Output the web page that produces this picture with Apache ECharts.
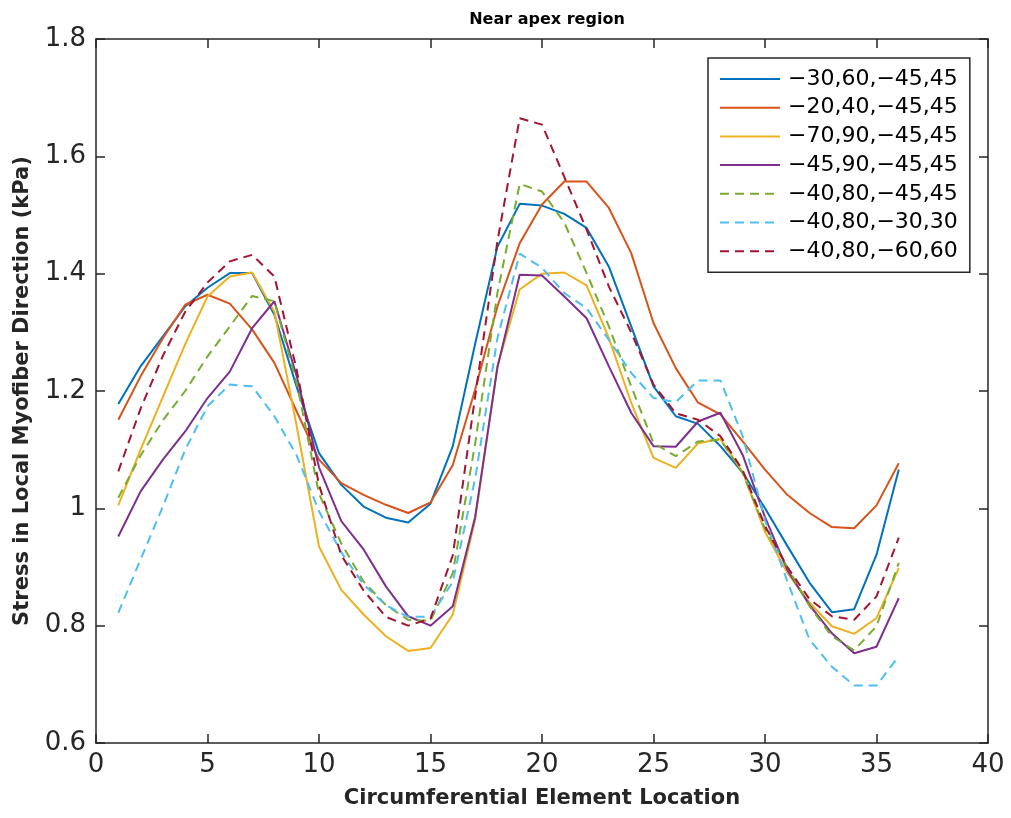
<!DOCTYPE html>
<html>
<head>
<meta charset="utf-8">
<script src="https://cdn.jsdelivr.net/npm/echarts@6/dist/echarts.min.js"></script>
<style>
html,body{margin:0;padding:0;background:#fff;}
#chart{width:1011px;height:818px;}
</style>
</head>
<body>
<div id="chart"></div>
<script>
const elementLocation = [1,2,3,4,5,6,7,8,9,10,11,12,13,14,15,16,17,18,19,20,21,22,23,24,25,26,27,28,29,30,31,32,33,34,35,36];

const seriesNames = ['\u221230,60,\u221245,45','\u221220,40,\u221245,45','\u221270,90,\u221245,45','\u221245,90,\u221245,45','\u221240,80,\u221245,45','\u221240,80,\u221230,30','\u221240,80,\u221260,60'];

const s_30_60_45 = [1.178,1.242,1.293,1.344,1.376,1.401,1.401,1.330,1.207,1.094,1.040,1.003,0.984,0.976,1.008,1.106,1.280,1.446,1.519,1.516,1.502,1.478,1.412,1.310,1.208,1.157,1.144,1.106,1.061,1.000,0.936,0.873,0.823,0.828,0.921,1.066];
const s_20_40_45 = [1.151,1.225,1.290,1.347,1.364,1.349,1.305,1.248,1.165,1.083,1.043,1.023,1.006,0.992,1.010,1.074,1.202,1.344,1.452,1.518,1.557,1.557,1.512,1.435,1.316,1.239,1.180,1.160,1.114,1.066,1.023,0.992,0.968,0.966,1.005,1.077];
const s_70_90_45 = [1.005,1.100,1.190,1.280,1.361,1.395,1.402,1.335,1.140,0.935,0.861,0.819,0.782,0.757,0.762,0.819,0.980,1.242,1.373,1.400,1.402,1.380,1.290,1.180,1.086,1.069,1.111,1.118,1.062,0.960,0.890,0.839,0.799,0.786,0.813,0.898];
const s_45_90_45 = [0.952,1.029,1.083,1.131,1.188,1.233,1.307,1.353,1.225,1.070,0.978,0.930,0.867,0.816,0.800,0.833,0.985,1.240,1.398,1.397,1.361,1.324,1.242,1.163,1.106,1.105,1.148,1.163,1.091,0.985,0.895,0.835,0.787,0.753,0.764,0.847];
const s_40_80_45 = [1.018,1.090,1.150,1.200,1.259,1.310,1.362,1.353,1.214,1.025,0.940,0.875,0.835,0.810,0.808,0.890,1.110,1.367,1.553,1.540,1.487,1.401,1.310,1.208,1.111,1.089,1.114,1.117,1.060,0.965,0.900,0.833,0.782,0.758,0.799,0.907];
const s_40_80_30 = [0.822,0.913,1.003,1.100,1.174,1.211,1.208,1.157,1.090,0.995,0.925,0.870,0.835,0.815,0.815,0.875,1.050,1.290,1.434,1.410,1.367,1.341,1.287,1.231,1.188,1.181,1.218,1.218,1.123,0.980,0.876,0.776,0.730,0.698,0.698,0.748];
const s_40_80_60 = [1.063,1.170,1.260,1.335,1.385,1.421,1.432,1.395,1.236,1.040,0.920,0.860,0.815,0.800,0.812,0.920,1.190,1.455,1.665,1.654,1.565,1.475,1.378,1.300,1.211,1.162,1.151,1.123,1.065,0.970,0.900,0.845,0.816,0.810,0.850,0.950];

const xTicks = {min:0, max:40, interval:5};
const yTicks = {min:0.6, max:1.8, interval:0.2};

const allValues = [s_30_60_45,s_20_40_45,s_70_90_45,s_45_90_45,s_40_80_45,s_40_80_30,s_40_80_60];
const colors = ['#0072BD','#D95319','#EDB120','#7E2F8E','#77AC30','#4DBEEE','#A2142F'];
const dashed = [false,false,false,false,true,true,true];

const FONT = 'DejaVu Sans';
const AX = '#262626';

const series = allValues.map((vals, i) => ({
  name: seriesNames[i],
  type: 'line',
  data: vals.map((v, j) => [elementLocation[j], v]),
  symbol: 'none',
  showSymbol: false,
  animation: false,
  lineStyle: {color: colors[i], width: 2, type: dashed[i] ? [9,6] : 'solid'},
  itemStyle: {color: colors[i]},
  z: 2
}));

const axisCommon = {
  axisLine: {show: true, onZero: false, lineStyle: {color: AX, width: 1.5}},
  axisTick: {show: true, inside: true, length: 9, lineStyle: {color: AX, width: 1.5}},
  splitLine: {show: false}
};

const chart = echarts.init(document.getElementById('chart'), null, {renderer: 'canvas'});
chart.setOption({
  backgroundColor: '#ffffff',
  animation: false,
  title: {
    text: 'Near apex region',
    left: 542, top: 7, textAlign: 'center',
    textStyle: {fontFamily: FONT, fontSize: 16, fontWeight: 'bold', color: '#000'}
  },
  grid: {left: 96, right: 23, top: 39, bottom: 75, containLabel: false},
  legend: {
    orient: 'vertical',
    left: 708, top: 58,
    itemWidth: 60, itemHeight: 20, itemGap: 6.7,
    padding: [10, 12, 10, 11],
    borderColor: '#262626', borderWidth: 1.5,
    backgroundColor: '#fff',
    itemStyle: {opacity: 0},
    textStyle: {fontFamily: FONT, fontSize: 22, color: '#000', lineHeight: 20, padding: [0,0,0,3]},
    data: seriesNames
  },
  xAxis: [
    Object.assign({}, axisCommon, {
      type: 'value', position: 'bottom',
      min: xTicks.min, max: xTicks.max, interval: xTicks.interval,
      name: 'Circumferential Element Location',
      nameLocation: 'middle', nameGap: 45,
      nameTextStyle: {fontFamily: FONT, fontSize: 21, fontWeight: 'bold', color: AX},
      axisLabel: {fontFamily: FONT, fontSize: 26, color: AX, margin: 9}
    }),
    Object.assign({}, axisCommon, {
      type: 'value', position: 'top',
      min: xTicks.min, max: xTicks.max, interval: xTicks.interval,
      axisLabel: {show: false}
    })
  ],
  yAxis: [
    Object.assign({}, axisCommon, {
      type: 'value', position: 'left',
      min: yTicks.min, max: yTicks.max, interval: yTicks.interval,
      name: 'Stress in Local Myofiber Direction (kPa)',
      nameLocation: 'middle', nameGap: 63,
      nameTextStyle: {fontFamily: FONT, fontSize: 21, fontWeight: 'bold', color: AX},
      axisLabel: {fontFamily: FONT, fontSize: 26, color: AX, margin: 10,
        formatter: v => String(Math.round(v*10)/10)}
    }),
    Object.assign({}, axisCommon, {
      type: 'value', position: 'right',
      min: yTicks.min, max: yTicks.max, interval: yTicks.interval,
      axisLabel: {show: false}
    })
  ],
  series: series
});
</script>
</body>
</html>
